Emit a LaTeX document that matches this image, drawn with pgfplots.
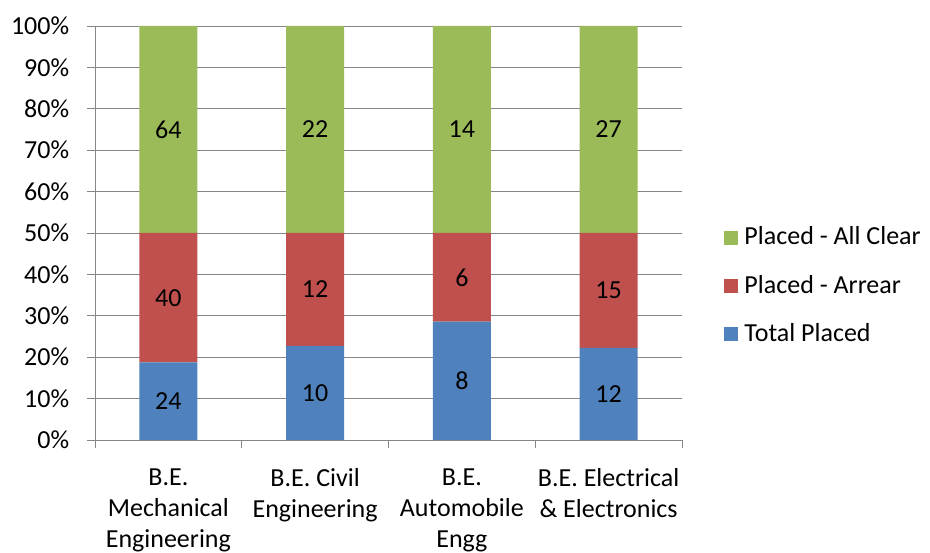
\documentclass[border=0pt]{standalone}
\usepackage{fontspec}
\setmainfont{Carlito}
\usepackage{pgfplots}
\usepackage{pgfplotstable}
\pgfplotsset{compat=1.18}
\definecolor{cblue}{HTML}{4F81BD}
\definecolor{cred}{HTML}{C0504D}
\definecolor{cgreen}{HTML}{9BBB59}
\definecolor{cgrid}{HTML}{868686}
\pgfplotstableread{
x tp ar ac ltp lar lac
0 18.75 31.25 50 24 40 64
1 22.7273 27.2727 50 10 12 22
2 28.5714 21.4286 50 8 6 14
3 22.2222 27.7778 50 12 15 27
}\data
\begin{document}
\fontsize{26}{31}\selectfont
\begin{tikzpicture}
\useasboundingbox (-95pt,-113pt) rectangle (835pt,440pt);
\begin{axis}[
  at={(0,0)}, anchor=south west,
  scale only axis, width=587pt, height=414pt,
  ybar stacked, bar width=58pt,
  xmin=-0.5, xmax=3.5, ymin=0, ymax=100,
  axis x line=bottom, axis y line=left,
  axis line style={draw=cgrid, line width=0.8pt, -},
  ytick={0,10,...,100},
  yticklabels={0\%,10\%,20\%,30\%,40\%,50\%,60\%,70\%,80\%,90\%,100\%},
  yticklabel style={xshift=-9pt},
  ymajorgrids, grid style={draw=cgrid, line width=0.8pt},
  xtick={0,1,2,3},
  xticklabels={{B.E.\\Mechanical\\Engineering},{B.E. Civil\\Engineering},{B.E.\\Automobile\\Engg},{B.E. Electrical\\\& Electronics}},
  xticklabel style={align=center, anchor=north, yshift=-12pt},
  major x tick style={draw=none},
  minor xtick={-0.5,0.5,1.5,2.5,3.5},
  minor x tick style={draw=cgrid, line width=0.8pt},
  y tick style={draw=cgrid, line width=0.8pt},
  tick align=outside, major tick length=8pt, minor tick length=8pt,
  tick label style={font=\fontsize{26}{31}\selectfont},
  point meta=explicit symbolic,
  nodes near coords,
  every node near coord/.append style={anchor=center, text=black, font=\fontsize{26}{31}\selectfont},
  legend style={at={(axis description cs:1.072,0.372)}, anchor=west, draw=none, fill=none,
    font=\fontsize{26}{31}\selectfont, row sep=22.5pt, inner sep=0pt},
  legend cell align=left,
  reverse legend,
  legend image code/.code={\path[#1,draw=none] (0pt,-7pt) rectangle (14pt,7pt); \path (18pt,0pt);},
]
\addplot[fill=cblue, draw=none] table[x=x, y=tp, meta=ltp] {\data};
\addlegendentry{Total Placed}
\addplot[fill=cred, draw=none] table[x=x, y=ar, meta=lar] {\data};
\addlegendentry{Placed - Arrear}
\addplot[fill=cgreen, draw=none] table[x=x, y=ac, meta=lac] {\data};
\addlegendentry{Placed - All Clear}
\end{axis}
\end{tikzpicture}
\end{document}
